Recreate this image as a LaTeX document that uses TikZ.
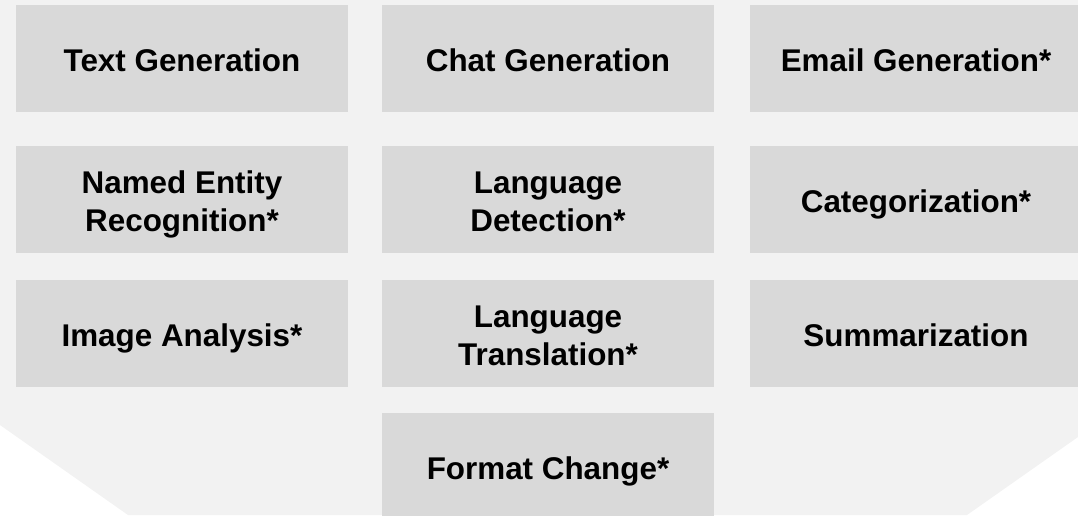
\documentclass[tikz,border=0pt]{standalone}
\usepackage{fontspec}
\setmainfont{Liberation Sans}
\definecolor{panel}{HTML}{F2F2F2}
\definecolor{tile}{HTML}{D9D9D9}
\newcommand{\twolines}[2]{\rule{0pt}{34pt}#1\\#2\rule[-8pt]{0pt}{8pt}}

\tikzset{
  every node/.style={fill=tile,minimum width=332pt,minimum height=107pt,inner sep=0pt,
    align=center,font=\fontsize{31.4}{38}\selectfont\bfseries,
    execute at begin node={\rule{0pt}{34pt}},
    execute at end node={\rule[-8pt]{0pt}{8pt}}}
}

\begin{document}
\begin{tikzpicture}[x=1pt,y=-1pt]
      \clip (0,0) rectangle (1078,515);
      \fill[panel] (0,0) -- (1078,0) -- (1078,437) -- (967,515) -- (128,515) -- (0,425) -- cycle;

      \node (text) at (182,58) {Text Generation};
      \node (chat) at (548,58) {Chat Generation};
      \node (email) at (916,58) {Email Generation*};
      \node (ner) at (182,199) {\twolines{Named Entity}{Recognition*}};
      \node (langdet) at (548,199) {\twolines{Language}{Detection*}};
      \node (categ) at (916,199) {Categorization*};
      \node (image) at (182,333) {Image Analysis*};
      \node (langtr) at (548,333) {\twolines{Language}{Translation*}};
      \node (summ) at (916,333) {Summarization};
      \node (format) at (548,466) {Format Change*};
    \end{tikzpicture}
\end{document}
